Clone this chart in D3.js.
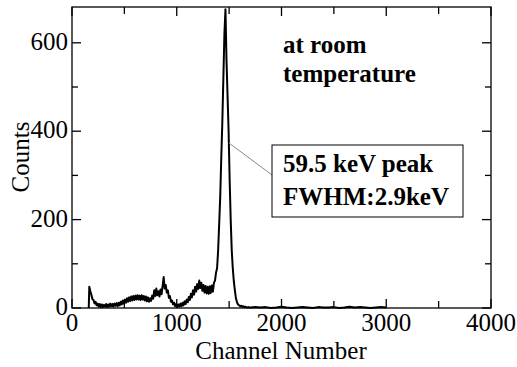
<!DOCTYPE html>
<html>
<head>
<meta charset="UTF-8">
<script src="https://d3js.org/d3.v7.min.js"></script>
<style>
  body { margin: 0; background: #fff; }
  svg { display: block; }
  text { font-family: "Liberation Serif", "Times New Roman", serif; fill: #000; }
</style>
</head>
<body>
<svg id="chart" width="517" height="367"></svg>
<script>
// spectrum, channel grid 160..1700 step 10
const mainChannels = d3.range(160, 1710, 10);
const mainCounts = [
  48, 38, 30, 20, 18, 10, 14, 6, 10, 3,
  9, 2, 8, 2, 7, 3, 9, 2, 8, 3,
  10, 4, 9, 3, 10, 5, 11, 4, 12, 6,
  14, 8, 17, 10, 19, 12, 22, 14, 24, 16,
  26, 17, 27, 18, 28, 19, 29, 19, 28, 18,
  29, 19, 27, 17, 26, 15, 24, 14, 22, 16,
  28, 21, 40, 27, 44, 29, 38, 26, 42, 31,
  50, 70, 44, 52, 35, 40, 23, 27, 14, 17,
  8, 12, 4, 9, 2, 8, 3, 10, 4, 12,
  6, 15, 9, 19, 13, 25, 18, 32, 24, 40,
  30, 48, 37, 54, 43, 62, 45, 57, 39, 52,
  35, 50, 33, 48, 32, 49, 34, 51, 37, 57,
  62, 80, 90, 130, 190, 252, 340, 420, 520, 620,
  676, 560, 480, 400, 290, 200, 130, 90, 60, 40,
  22, 13, 8, 6, 4, 5, 3, 4, 2, 3,
  2, 1, 2, 1, 1
];
// flat tail 1750..3000 step 50
const tailChannels = d3.range(1750, 3050, 50);
const tailCounts = [
  2, 1, 2, 0, 1, 3, 1, 0, 1, 2,
  1, 0, 2, 1, 1, 2, 0, 1, 3, 1,
  2, 1, 0, 1, 2, 1
];

const xTicks = [0, 1000, 2000, 3000, 4000];
const xMinor = [500, 1500, 2500, 3500];
const yTicks = [0, 200, 400, 600];
const yMinor = [100, 300, 500];

const svg = d3.select("#chart");
const pL = 72, pR = 491, pT = 7, pB = 308;

const x = d3.scaleLinear().domain([0, 4000]).range([pL, pR]);
const y = d3.scaleLinear().domain([0, 681]).range([pB, pT]);

const points = [[160, 0]]
  .concat(mainChannels.map((c, i) => [c + 5, mainCounts[i]]))
  .concat(tailChannels.map((c, i) => [c, tailCounts[i]]));

svg.append("path")
  .datum(points)
  .attr("fill", "none")
  .attr("stroke", "#000")
  .attr("stroke-width", 2)
  .attr("stroke-linejoin", "round")
  .attr("d", d3.line().x(d => x(d[0])).y(d => y(d[1])));

// frame with inward ticks on every side
const axisG = svg.append("g").attr("stroke", "#000").attr("stroke-width", 1.3);
axisG.append("rect")
  .attr("x", pL).attr("y", pT)
  .attr("width", pR - pL).attr("height", pB - pT)
  .attr("fill", "none");

function xt(vals, len) {
  vals.forEach(v => {
    axisG.append("line").attr("x1", x(v)).attr("x2", x(v)).attr("y1", pB).attr("y2", pB - len);
    axisG.append("line").attr("x1", x(v)).attr("x2", x(v)).attr("y1", pT).attr("y2", pT + len);
  });
}
function yt(vals, len) {
  vals.forEach(v => {
    axisG.append("line").attr("y1", y(v)).attr("y2", y(v)).attr("x1", pL).attr("x2", pL + len);
    axisG.append("line").attr("y1", y(v)).attr("y2", y(v)).attr("x1", pR).attr("x2", pR - len);
  });
}
xt(xTicks, 9); xt(xMinor, 7);
yt(yTicks, 9); yt(yMinor, 6);

svg.append("g").selectAll("text").data(xTicks).join("text")
  .attr("x", d => x(d)).attr("y", 331)
  .attr("text-anchor", "middle")
  .attr("font-size", 25)
  .text(d => d);

svg.append("g").selectAll("text").data(yTicks).join("text")
  .attr("x", 68).attr("y", d => y(d) + 7)
  .attr("text-anchor", "end")
  .attr("font-size", 25)
  .text(d => d);

svg.append("text")
  .attr("x", 281).attr("y", 359)
  .attr("text-anchor", "middle")
  .attr("font-size", 25)
  .text("Channel Number");

svg.append("text")
  .attr("transform", "translate(29,157) rotate(-90)")
  .attr("text-anchor", "middle")
  .attr("font-size", 25)
  .text("Counts");

// annotations
svg.append("text").attr("x", 283).attr("y", 53)
  .attr("font-size", 25).attr("font-weight", "bold").text("at room");
svg.append("text").attr("x", 283).attr("y", 82)
  .attr("font-size", 25).attr("font-weight", "bold").text("temperature");

svg.append("line")
  .attr("x1", 229).attr("y1", 143).attr("x2", 272).attr("y2", 175)
  .attr("stroke", "#888").attr("stroke-width", 1);

svg.append("rect")
  .attr("x", 272).attr("y", 145).attr("width", 191).attr("height", 72)
  .attr("fill", "#fff").attr("stroke", "#000").attr("stroke-width", 1);

svg.append("text").attr("x", 283).attr("y", 172)
  .attr("font-size", 25).attr("font-weight", "bold").text("59.5 keV peak");
svg.append("text").attr("x", 283).attr("y", 205)
  .attr("font-size", 25).attr("font-weight", "bold").text("FWHM:2.9keV");
</script>
</body>
</html>
